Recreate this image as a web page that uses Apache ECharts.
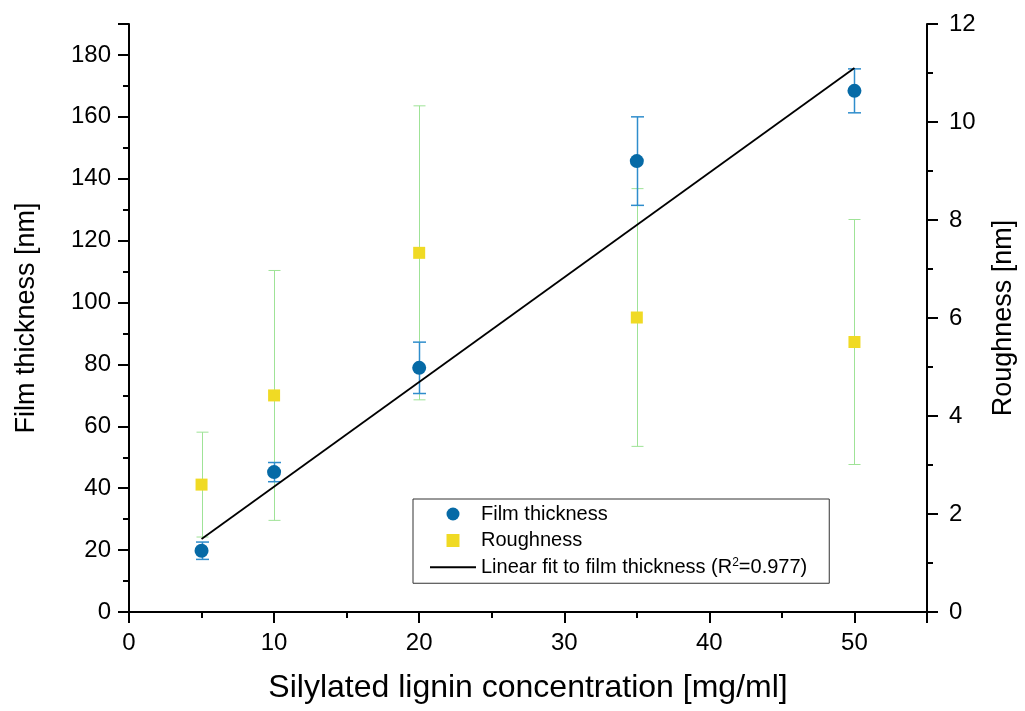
<!DOCTYPE html>
<html>
<head>
<meta charset="utf-8">
<script src="https://cdn.jsdelivr.net/npm/echarts@6/dist/echarts.min.js"></script>
<style>
  html, body { margin: 0; padding: 0; background: #fff; }
  #chart { width: 1025px; height: 711px; }
</style>
</head>
<body>
<div id="chart"></div>
<script>
// Silylated lignin concentration [mg/ml]
const concentration = [5, 10, 20, 35, 50];
// Film thickness [nm] and its standard deviation
const thickness = [19.8, 45.2, 78.9, 145.7, 168.4];
const thicknessErr = [2.8, 3.1, 8.3, 14.3, 7.1];
// Roughness [nm] and its standard deviation
const roughness = [2.60, 4.42, 7.33, 6.01, 5.51];
const roughnessErr = [1.07, 2.55, 3.0, 2.63, 2.5];
// Linear fit to film thickness, evaluated at the ends of the fitted range
const fitX = [5, 50];
const fitY = [23.6, 175.8];

const FONT = 'Arial, "Liberation Sans", sans-serif';
const FIT_NAME = 'Linear fit to film thickness (R2=0.977)';

function pairs(xs, ys) { return xs.map((x, i) => [x, ys[i]]); }
function errRows(xs, ys, es) { return xs.map((x, i) => [x, ys[i] - es[i], ys[i] + es[i]]); }

// Vertical error bar with end caps; the stem is snapped to the pixel grid
function errorBars(color, width, cap) {
  return function (params, api) {
    const x = api.value(0);
    const top = api.coord([x, api.value(2)]);
    const bot = api.coord([x, api.value(1)]);
    const px = Math.round(top[0]) + 0.5;
    const style = { stroke: color, lineWidth: width };
    return {
      type: 'group',
      children: [
        { type: 'line', shape: { x1: px, y1: top[1], x2: px, y2: bot[1] }, style: style },
        { type: 'line', shape: { x1: px - cap, y1: top[1], x2: px + cap, y2: top[1] }, style: style },
        { type: 'line', shape: { x1: px - cap, y1: bot[1], x2: px + cap, y2: bot[1] }, style: style }
      ]
    };
  };
}

const axisLine = { show: true, lineStyle: { color: '#000', width: 2 } };
const axisTick = { show: true, inside: false, length: 11, lineStyle: { color: '#000', width: 2 } };
const minorTick = { show: true, splitNumber: 2, length: 6, lineStyle: { color: '#000', width: 2 } };
const tickLabel = { color: '#000', fontFamily: FONT, fontSize: 24 };

const chart = echarts.init(document.getElementById('chart'), null, { renderer: 'canvas' });

chart.setOption({
  backgroundColor: '#ffffff',
  animation: false,
  grid: { left: 129, right: 95, top: 24, bottom: 99, containLabel: false },
  legend: {
    show: true,
    orient: 'vertical',
    left: 413,
    top: 499,
    padding: [5, 22, 6, 17],
    itemGap: 6.5,
    itemWidth: 46,
    itemHeight: 13,
    borderColor: '#333',
    borderWidth: 1,
    selectedMode: false,
    data: [
      { name: 'Film thickness', icon: 'circle' },
      { name: 'Roughness', icon: 'path://M0,0h12v12h-12z' },
      { name: FIT_NAME, icon: 'path://M0,0h46v1.8h-46z' }
    ],
    formatter: function (name) {
      if (name === FIT_NAME) {
        return '{n|Linear fit to film thickness (R}{s|2}{n|=0.977)}';
      }
      return '{n|' + name + '}';
    },
    textStyle: {
      color: '#000',
      fontFamily: FONT,
      fontSize: 20,
      rich: {
        n: { fontFamily: FONT, fontSize: 20, lineHeight: 20.5, color: '#000' },
        s: { fontFamily: FONT, fontSize: 12, lineHeight: 12, verticalAlign: 'top', color: '#000' }
      }
    }
  },
  xAxis: {
    type: 'value',
    min: 0, max: 55, interval: 10,
    name: 'Silylated lignin concentration [mg/ml]',
    nameLocation: 'middle',
    nameGap: 60,
    nameTextStyle: { color: '#000', fontFamily: FONT, fontSize: 32 },
    axisLine: Object.assign({ onZero: false }, axisLine),
    axisTick: axisTick,
    minorTick: minorTick,
    splitLine: { show: false },
    axisLabel: Object.assign({ margin: 19, showMaxLabel: false }, tickLabel)
  },
  yAxis: [
    {
      type: 'value',
      position: 'left',
      min: 0, max: 190, interval: 20,
      name: 'Film thickness [nm]',
      nameLocation: 'middle',
      nameGap: 89,
      nameTextStyle: { color: '#000', fontFamily: FONT, fontSize: 27 },
      axisLine: axisLine,
      axisTick: axisTick,
      minorTick: minorTick,
      splitLine: { show: false },
      axisLabel: Object.assign({ margin: 18, showMaxLabel: false }, tickLabel)
    },
    {
      type: 'value',
      position: 'right',
      min: 0, max: 12, interval: 2,
      name: 'Roughness [nm]',
      nameLocation: 'middle',
      nameGap: 63,
      nameTextStyle: { color: '#000', fontFamily: FONT, fontSize: 27 },
      axisLine: axisLine,
      axisTick: axisTick,
      minorTick: minorTick,
      splitLine: { show: false },
      axisLabel: Object.assign({ margin: 22 }, tickLabel)
    }
  ],
  series: [
    {
      name: 'Roughness error',
      type: 'custom',
      yAxisIndex: 1,
      renderItem: errorBars('#9fe397', 1, 6),
      encode: { x: 0, y: [1, 2] },
      data: errRows(concentration, roughness, roughnessErr),
      z: 1
    },
    {
      name: 'Roughness',
      type: 'scatter',
      yAxisIndex: 1,
      symbol: 'rect',
      symbolSize: 12,
      itemStyle: { color: '#f0da24', opacity: 1 },
      data: pairs(concentration, roughness),
      z: 2
    },
    {
      name: 'Film thickness error',
      type: 'custom',
      yAxisIndex: 0,
      renderItem: errorBars('#2f8dcc', 1.5, 6.5),
      encode: { x: 0, y: [1, 2] },
      data: errRows(concentration, thickness, thicknessErr),
      z: 3
    },
    {
      name: 'Film thickness',
      type: 'scatter',
      yAxisIndex: 0,
      symbol: 'circle',
      symbolSize: 14,
      itemStyle: { color: '#066aa6', opacity: 1 },
      data: pairs(concentration, thickness),
      z: 4
    },
    {
      name: FIT_NAME,
      type: 'line',
      yAxisIndex: 0,
      symbol: 'none',
      showSymbol: false,
      lineStyle: { color: '#000', width: 1.8 },
      itemStyle: { color: '#000' },
      data: pairs(fitX, fitY),
      z: 5
    }
  ]
});
</script>
</body>
</html>
